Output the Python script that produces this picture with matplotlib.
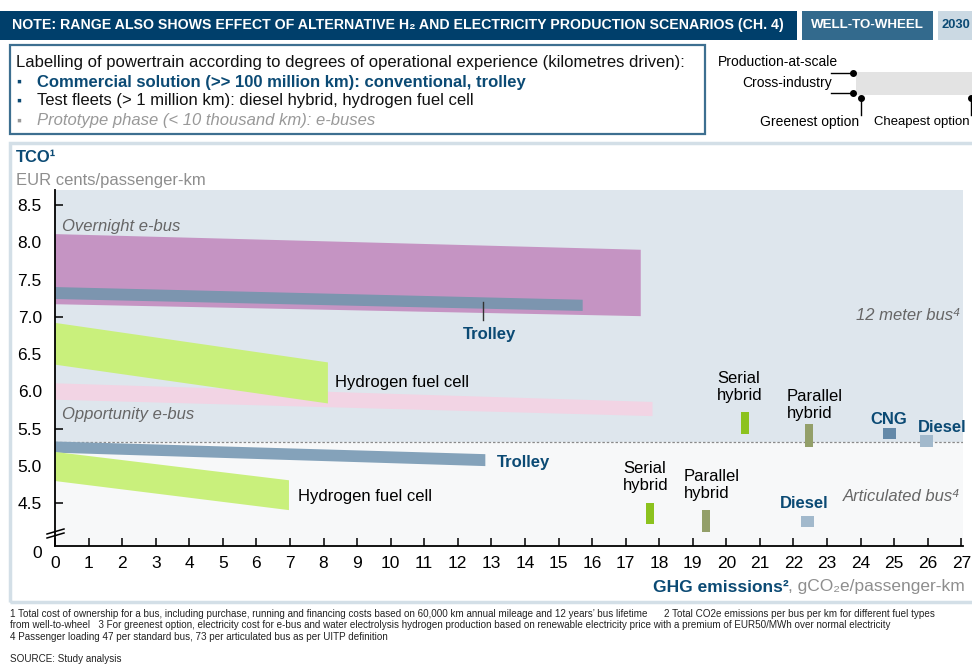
import matplotlib
matplotlib.use("Agg")
import matplotlib.pyplot as plt
from matplotlib.patches import Rectangle
from matplotlib.lines import Line2D

# ---------------- data ----------------
x_ticks = list(range(0, 28))
y_ticks = [4.5, 5.0, 5.5, 6.0, 6.5, 7.0, 7.5, 8.0, 8.5]
y_tick_labels = ["4.5", "5.0", "5.5", "6.0", "6.5", "7.0", "7.5", "8.0", "8.5"]
segment_boundary = 5.32  # split between 12 meter bus (above) and articulated bus (below)

# ranges (bands): x start/end, top start/end, bottom start/end
band_names = ["Overnight e-bus", "Trolley 12m", "Opportunity e-bus", "Hydrogen fuel cell 12m",
              "Trolley articulated", "Hydrogen fuel cell articulated"]
band_x = [[0, 17.45], [0, 15.72], [0, 17.8], [0, 8.13], [0, 12.82], [0, 6.97]]
band_top = [[8.11, 7.90], [7.40, 7.23], [6.11, 5.86], [6.92, 6.39], [5.33, 5.16], [5.19, 4.81]]
band_bottom = [[7.17, 7.01], [7.24, 7.08], [5.89, 5.67], [6.36, 5.84], [5.18, 5.00], [4.80, 4.41]]
band_colors = ["#C594C3", "#7C95AF", "#F2D4E4", "#C9F07C", "#84A2BA", "#C9F07C"]

# point ranges (small bars): x, low, high
bar_names = ["Serial hybrid 12m", "Parallel hybrid 12m", "CNG 12m", "Diesel 12m",
             "Serial hybrid articulated", "Parallel hybrid articulated", "Diesel articulated"]
bar_x = [20.55, 22.46, 24.87, 25.97, 17.72, 19.40, 22.41]
bar_low = [5.43, 5.26, 5.36, 5.26, 4.22, 4.11, 4.19]
bar_high = [5.72, 5.56, 5.51, 5.42, 4.51, 4.41, 4.33]
bar_width = [0.24, 0.24, 0.38, 0.38, 0.24, 0.24, 0.38]
bar_colors = ["#8CC21E", "#939F69", "#6489A8", "#A2B9CC", "#8CC21E", "#939F69", "#A2B9CC"]

# ---------------- figure ----------------
W, H = 972, 664
fig = plt.figure(figsize=(W / 100, H / 100), dpi=100)
plt.rcParams['font.family'] = ['Liberation Sans', 'DejaVu Sans']
DARK = "#0B4A74"
GRAY_IT = "#666666"
renderer = fig.canvas.get_renderer()

def fx(px):
    return px / W

def fy(py):
    return 1 - py / H

def fit_text(t, width_px, max_size):
    """shrink a text's font size so that it spans width_px pixels at most"""
    t.set_fontsize(max_size)
    w = t.get_window_extent(renderer=renderer).width
    if w > width_px:
        t.set_fontsize(max_size * width_px / w)
    return t

# header bars
fig.patches.append(Rectangle((fx(0), fy(39.5)), fx(797), 28.5 / H, transform=fig.transFigure,
                             facecolor="#003F6B", edgecolor="none"))
fig.patches.append(Rectangle((fx(802), fy(39.5)), fx(131), 28.5 / H, transform=fig.transFigure,
                             facecolor="#336A8D", edgecolor="none"))
fig.patches.append(Rectangle((fx(938), fy(39.5)), fx(40), 28.5 / H, transform=fig.transFigure,
                             facecolor="#CBD9E3", edgecolor="none"))
t = fig.text(fx(12), fy(25.5), "NOTE: RANGE ALSO SHOWS EFFECT OF ALTERNATIVE H\u2082 AND ELECTRICITY PRODUCTION SCENARIOS (CH. 4)",
             color="white", fontweight="bold", va="center", ha="left")
fit_text(t, 773, 10.5)
t = fig.text(fx(867.5), fy(25.5), "WELL-TO-WHEEL", color="white", fontweight="bold",
             va="center", ha="center")
fit_text(t, 114, 10.5)
t = fig.text(fx(941), fy(25.5), "2030", color=DARK, fontweight="bold", va="center", ha="left")
fit_text(t, 29, 10.5)

# legend box
fig.patches.append(Rectangle((fx(10), fy(134)), fx(695), 89 / H, transform=fig.transFigure,
                             facecolor="white", edgecolor="#3D6F90", linewidth=1.6))
fig.text(fx(16), fy(62), "Labelling of powertrain according to degrees of operational experience (kilometres driven):",
         fontsize=12, va="center", ha="left", color="#111111")
fig.text(fx(16), fy(82), "\u25aa", fontsize=10, va="center", ha="left", color=DARK)
fig.text(fx(37), fy(82), "Commercial solution (>> 100 million km): conventional, trolley",
         fontsize=12, fontweight="bold", va="center", ha="left", color=DARK)
fig.text(fx(16), fy(101), "\u25aa", fontsize=10, va="center", ha="left", color=DARK)
fig.text(fx(37), fy(101), "Test fleets (> 1 million km): diesel hybrid, hydrogen fuel cell",
         fontsize=12, va="center", ha="left", color="#111111")
fig.text(fx(16), fy(121), "\u25aa", fontsize=10, va="center", ha="left", color="#999999")
fig.text(fx(37), fy(121), "Prototype phase (< 10 thousand km): e-buses",
         fontsize=12, fontstyle="italic", va="center", ha="left", color="#999999")

# right legend (range explanation)
fig.patches.append(Rectangle((fx(856), fy(94.5)), fx(120), 22.5 / H, transform=fig.transFigure,
                             facecolor="#E3E3E3", edgecolor="none"))
for (x0, y0, x1, y1) in [(831, 72.5, 853, 72.5), (831, 92.5, 853, 92.5), (861, 97.5, 861, 115),
                         (971, 97.5, 971, 115)]:
    fig.lines.append(Line2D([fx(x0), fx(x1)], [fy(y0), fy(y1)], transform=fig.transFigure,
                            color="black", linewidth=1))
for (x0, y0) in [(853, 72.5), (853, 92.5), (861, 97.5), (971, 97.5)]:
    fig.lines.append(Line2D([fx(x0)], [fy(y0)], transform=fig.transFigure, marker="o",
                            markersize=4, color="black", linestyle="none"))
fig.text(fx(718), fy(62), "Production-at-scale", fontsize=10, va="center", ha="left")
fig.text(fx(742), fy(83), "Cross-industry", fontsize=10, va="center", ha="left")
fig.text(fx(810), fy(122), "Greenest option", fontsize=10, va="center", ha="center")
t = fig.text(fx(874), fy(122), "Cheapest option", va="center", ha="left")
fit_text(t, 96, 10)

# chart frame
fig.patches.append(Rectangle((fx(10), fy(602)), fx(970), 459 / H, transform=fig.transFigure,
                             facecolor="none", edgecolor="#D3DFE7", linewidth=2.5))
fig.text(fx(16), fy(158), "TCO\u00b9", fontsize=12, fontweight="bold", color=DARK, va="center", ha="left")
fig.text(fx(16), fy(180), "EUR cents/passenger-km", fontsize=12, color="#8E8E8E", va="center", ha="left")

# axes
ax = fig.add_axes([fx(55), fy(546), (963 - 55) / W, (546 - 190) / H])
y_bottom = 8.5 - (546 - 205) / 74.6
y_top = 8.5 + (205 - 190) / 74.6
ax.set_xlim(0, 27.05)
ax.set_ylim(y_bottom, y_top)
ax.set_facecolor("#F7F8F9")
ax.axhspan(segment_boundary, y_top, facecolor="#DEE6ED", edgecolor="none", zorder=0)
ax.axhline(segment_boundary, color="#8A8A8A", linewidth=0.9, linestyle=(0, (2, 1.5)), zorder=1)

for xs, tp, bt, c in zip(band_x, band_top, band_bottom, band_colors):
    ax.fill_between(xs, bt, tp, facecolor=c, edgecolor="none", zorder=2)

for x, lo, hi, w, c in zip(bar_x, bar_low, bar_high, bar_width, bar_colors):
    ax.bar(x, hi - lo, bottom=lo, width=w, color=c, edgecolor="none", zorder=3)

for s in ["top", "right"]:
    ax.spines[s].set_visible(False)
for s in ["left", "bottom"]:
    ax.spines[s].set_linewidth(1.3)
ax.set_xticks(x_ticks)
ax.set_xticklabels([str(v) for v in x_ticks])
ax.set_yticks(y_ticks)
ax.set_yticklabels(y_tick_labels)
ax.tick_params(direction="in", length=6, width=1.1, labelsize=12.5, pad=7)
ax.tick_params(axis="y", pad=9.5)

# labels
def px2x(px):
    return (px - 55.5) / 33.55

def py2y(py):
    return 8.5 - (py - 205) / 74.6

lab = dict(fontsize=12, va="center", zorder=5)
ax.text(px2x(62), py2y(227), "Overnight e-bus", fontstyle="italic", color=GRAY_IT, ha="left", **lab)
ax.text(px2x(62), py2y(414), "Opportunity e-bus", fontstyle="italic", color=GRAY_IT, ha="left", **lab)
ax.plot([12.75, 12.75], [py2y(302), py2y(320)], color="#333333", linewidth=1, zorder=4)
ax.text(px2x(490), py2y(334), "Trolley", fontweight="bold", color=DARK, ha="center", **lab)
ax.text(px2x(335), py2y(382), "Hydrogen fuel cell", color="black", ha="left", **lab)
ax.text(px2x(960), py2y(316), "12 meter bus\u2074", fontstyle="italic", color=GRAY_IT, ha="right", **lab)
ax.text(px2x(717), py2y(387), "Serial\nhybrid", color="black", ha="left", linespacing=1.2, **lab)
ax.text(px2x(787), py2y(405), "Parallel\nhybrid", color="black", ha="left", linespacing=1.2, **lab)
ax.text(px2x(889), py2y(420), "CNG", fontweight="bold", color=DARK, ha="center", **lab)
ax.text(px2x(918), py2y(428), "Diesel", fontweight="bold", color=DARK, ha="left", **lab)
ax.text(px2x(497), py2y(463), "Trolley", fontweight="bold", color=DARK, ha="left", **lab)
ax.text(px2x(298), py2y(497), "Hydrogen fuel cell", color="black", ha="left", **lab)
ax.text(px2x(623), py2y(477), "Serial\nhybrid", color="black", ha="left", linespacing=1.2, **lab)
ax.text(px2x(684), py2y(485), "Parallel\nhybrid", color="black", ha="left", linespacing=1.2, **lab)
ax.text(px2x(780), py2y(504), "Diesel", fontweight="bold", color=DARK, ha="left", **lab)
ax.text(px2x(960), py2y(497), "Articulated bus\u2074", fontstyle="italic", color=GRAY_IT, ha="right", **lab)

# y-axis break and zero label
for dy in (0, 4):
    fig.lines.append(Line2D([fx(47), fx(64)], [fy(534 + dy), fy(529 + dy)], transform=fig.transFigure,
                            color="black", linewidth=1.1))
fig.text(fx(37), fy(553), "0", fontsize=12.5, va="center", ha="center")

# x axis title
t2 = fig.text(fx(965), fy(587), ", gCO\u2082e/passenger-km", fontsize=12.5, color="#8E8E8E",
              va="center", ha="right")
bb = t2.get_window_extent(renderer=renderer)
fig.text(bb.x0 / W, fy(587), "GHG emissions\u00b2", fontsize=12.5, fontweight="bold", color=DARK,
         va="center", ha="right")

# footnotes
foot = [
    "1 Total cost of ownership for a bus, including purchase, running and financing costs based on 60,000 km annual mileage and 12 years\u2019 bus lifetime      2 Total CO2e emissions per bus per km for different fuel types",
    "from well-to-wheel   3 For greenest option, electricity cost for e-bus and water electrolysis hydrogen production based on renewable electricity price with a premium of EUR50/MWh over normal electricity",
    "4 Passenger loading 47 per standard bus, 73 per articulated bus as per UITP definition",
]
for i, line in enumerate(foot):
    fig.text(fx(10), fy(614 + 11.5 * i), line, fontsize=7.1, va="center", ha="left", color="#222222")
fig.text(fx(10), fy(659), "SOURCE: Study analysis", fontsize=7.1, va="center", ha="left", color="#222222")

fig.savefig("out.png", dpi=100)
